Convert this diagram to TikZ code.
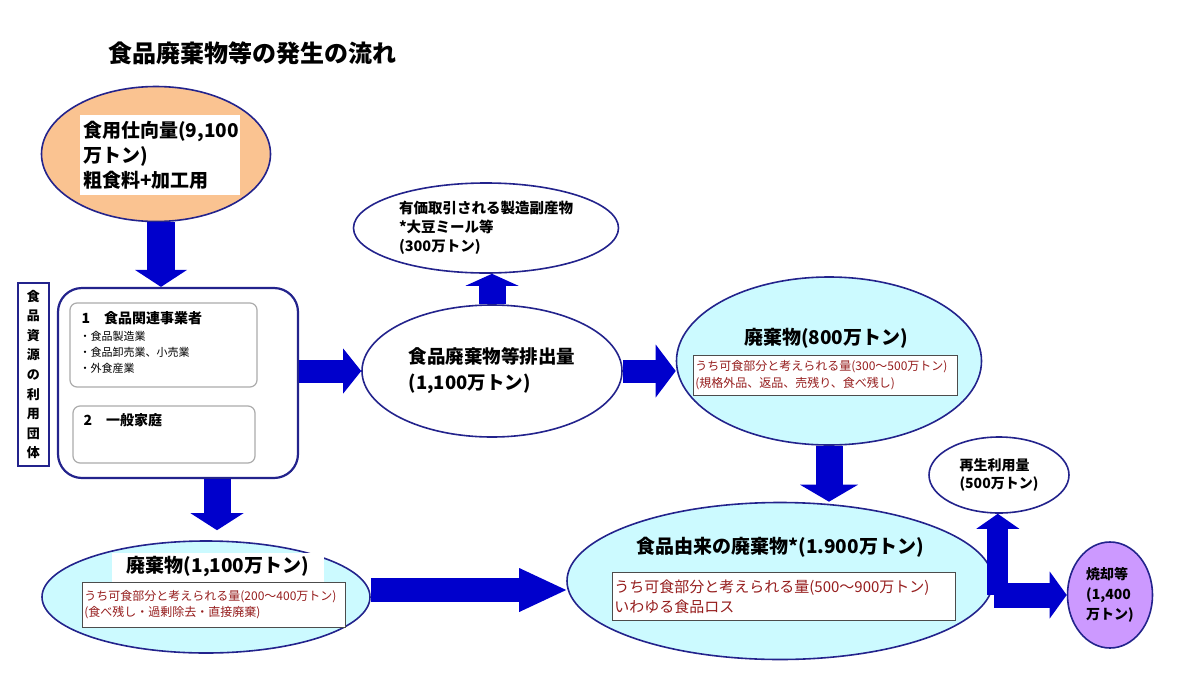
\documentclass[tikz,border=0pt]{standalone}
\usepackage{fontspec}
\setmainfont{Noto Sans CJK JP}
\usetikzlibrary{positioning,shapes.geometric,arrows.meta}
\definecolor{navyline}{RGB}{35,35,140}
\definecolor{arrowblue}{RGB}{0,0,204}
\definecolor{peach}{RGB}{250,195,145}
\definecolor{lcyan}{RGB}{204,250,255}
\definecolor{lilac}{RGB}{204,153,255}
\definecolor{darkred}{RGB}{150,30,30}

\begin{document}
\begin{tikzpicture}[x=1pt, y=-1pt,
  blob/.style={ellipse, draw=navyline, line width=1.6pt, inner sep=0pt,
               align=left, font=\bfseries\fontsize{14}{19}\selectfont},
  headtext/.style={font=\bfseries\fontsize{19}{24}\selectfont, inner sep=1pt},
  redbox/.style={draw=gray!60!black, line width=0.8pt, fill=white, inner sep=2pt,
                 anchor=north west, align=left, text=darkred},
  orgbox/.style={draw=navyline, line width=2.2pt, rounded corners=24pt, fill=white},
  group/.style={draw=gray!65, line width=1.2pt, rounded corners=7pt},
  sidelabel/.style={draw=navyline, line width=1.4pt, fill=white, inner sep=0pt,
                    align=center, font=\bfseries\fontsize{13}{19.6}\selectfont},
  fat/.style={draw=arrowblue, line width=#1,
              -{Triangle[length=18pt, width=48pt, line width=0pt]}},
  fat/.default=25pt,
]
\useasboundingbox (0,0) rectangle (1200,686);

% ---- title ----
\node[anchor=west, font=\bfseries\fontsize{24}{28}\selectfont] (title) at (105,53)
  {食品廃棄物等の発生の流れ};

% ---- food supply (top left) ----
\node[blob, fill=peach, minimum width=229pt, minimum height=135pt] (supply) at (156,154) {};
\node[fill=white, minimum width=160pt, minimum height=80pt, inner sep=0pt] (supplybox) at (160,155) {};
\begin{scope}
  \clip (supplybox.north west) rectangle (supplybox.south east);
  \node[anchor=north west, align=left, inner sep=0pt,
        font=\bfseries\fontsize{19}{25}\selectfont] (supplytext) at (83,121)
    {食用仕向量(9,100\\万トン)\\粗食料+加工用};
\end{scope}

% ---- users of food resources ----
\node[sidelabel, minimum width=31pt, minimum height=183pt] (side) at (33.5,374.5)
  {食\\品\\資\\源\\の\\利\\用\\団\\体};
\node[orgbox, minimum width=240pt, minimum height=190pt] (org) at (178,383) {};
\node[group, minimum width=187pt, minimum height=84pt] (biz) at (163.5,345) {};
\node[group, minimum width=182pt, minimum height=57pt] (home) at (164,434.5) {};
\node[anchor=west, font=\bfseries\fontsize{14}{16}\selectfont] (bizhead) at (78,318)
  {1　食品関連事業者};
\node[anchor=north west, align=left, font=\fontsize{11}{16}\selectfont] (bizlist) at (76,328)
  {・食品製造業\\・食品卸売業、小売業\\・外食産業};
\node[anchor=west, font=\bfseries\fontsize{14}{16}\selectfont] (homehead) at (80,420)
  {2　一般家庭};

% ---- discharge and by-products ----
\node[blob, fill=white, minimum width=260pt, minimum height=132pt,
      font=\bfseries\fontsize{18.5}{26}\selectfont] (output) at (492,371)
  {食品廃棄物等排出量\\(1,100万トン)};
\node[blob, fill=white, minimum width=265pt, minimum height=90pt,
      font=\bfseries\fontsize{14.5}{19}\selectfont] (byprod) at (486,228)
  {有価取引される製造副産物\\*大豆ミール等\\(300万トン)};

% ---- waste from businesses ----
\node[blob, fill=lcyan, minimum width=305pt, minimum height=168pt] (waste800) at (829,361) {};
\node[headtext] (waste800head) at (826,338) {廃棄物(800万トン)};
\node[redbox, text width=260pt, minimum height=40pt, font=\fontsize{12}{17}\selectfont]
  (waste800note) at (693,355)
  {うち可食部分と考えられる量(300～500万トン)\\(規格外品、返品、売残り、食べ残し)};

% ---- waste from households ----
\node[blob, fill=lcyan, minimum width=328pt, minimum height=112pt] (waste1100) at (206,597) {};
\node[headtext, fill=white, inner xsep=15pt, minimum height=29pt] (waste1100head) at (218,567)
  {廃棄物(1,100万トン)};
\node[redbox, text width=259pt, minimum height=45pt, font=\fontsize{12}{16}\selectfont]
  (waste1100note) at (82,582)
  {うち可食部分と考えられる量(200～400万トン)\\(食べ残し・過剰除去・直接廃棄)};

% ---- total food waste ----
\node[blob, fill=lcyan, minimum width=426pt, minimum height=157pt] (foodwaste) at (780,581) {};
\node[headtext] (foodwastehead) at (780,547) {食品由来の廃棄物*(1.900万トン)};
\node[redbox, text width=339pt, minimum height=48pt, font=\fontsize{15}{20}\selectfont]
  (foodwastenote) at (612,572)
  {うち可食部分と考えられる量(500～900万トン)\\いわゆる食品ロス};

% ---- recycling and incineration ----
\node[blob, fill=white, minimum width=140pt, minimum height=76pt,
      font=\bfseries\fontsize{14}{18}\selectfont] (recycle) at (999,475)
  {再生利用量\\(500万トン)};
\node[blob, fill=lilac, minimum width=85pt, minimum height=106pt,
      font=\bfseries\fontsize{14}{20}\selectfont] (incin) at (1110,595)
  {焼却等\\(1,400\\万トン)};

% ---- flow arrows ----
\coordinate (supplyout) at ([xshift=5pt]supply.south);
\draw[fat=28pt, -{Triangle[length=17pt, width=52pt, line width=0pt]}]
  (supplyout) -- (supplyout |- org.north);
\draw[fat=23pt, -{Triangle[length=18pt, width=45pt, line width=0pt]}]
  (org.east |- output.west) -- (output.west);
\draw[fat=27pt, -{Triangle[length=12pt, width=53pt, line width=0pt]}]
  (output.north) -- (output.north |- byprod.south);
\draw[fat=23pt, -{Triangle[length=20pt, width=53pt, line width=0pt]}]
  (output.east) -- (output.east -| waste800.west);
\draw[fat=27pt, -{Triangle[length=17pt, width=58pt, line width=0pt]}]
  (waste800.south) -- (waste800.south |- foodwaste.north);
\coordinate (orgout) at ([xshift=39pt]org.south);
\draw[fat=27pt, -{Triangle[length=17pt, width=53pt, line width=0pt]}, shorten >=10pt]
  (orgout) -- (orgout |- waste1100.north);
\coordinate (wasteout) at ([yshift=7pt]waste1100.east);
\draw[fat=24pt, -{Triangle[length=47pt, width=44pt, line width=0pt]}]
  (wasteout) -- (wasteout -| foodwaste.west);
\coordinate (branch) at ([xshift=4pt]foodwaste.east |- incin.west);
\draw[fat=21pt, -{Triangle[length=15pt, width=43pt, line width=0pt]}]
  (branch) -- (branch |- recycle.south);
\draw[fat=25pt, -{Triangle[length=17pt, width=47pt, line width=0pt]}]
  (foodwaste.east |- incin.west) -- (incin.west);

\end{tikzpicture}
\end{document}
